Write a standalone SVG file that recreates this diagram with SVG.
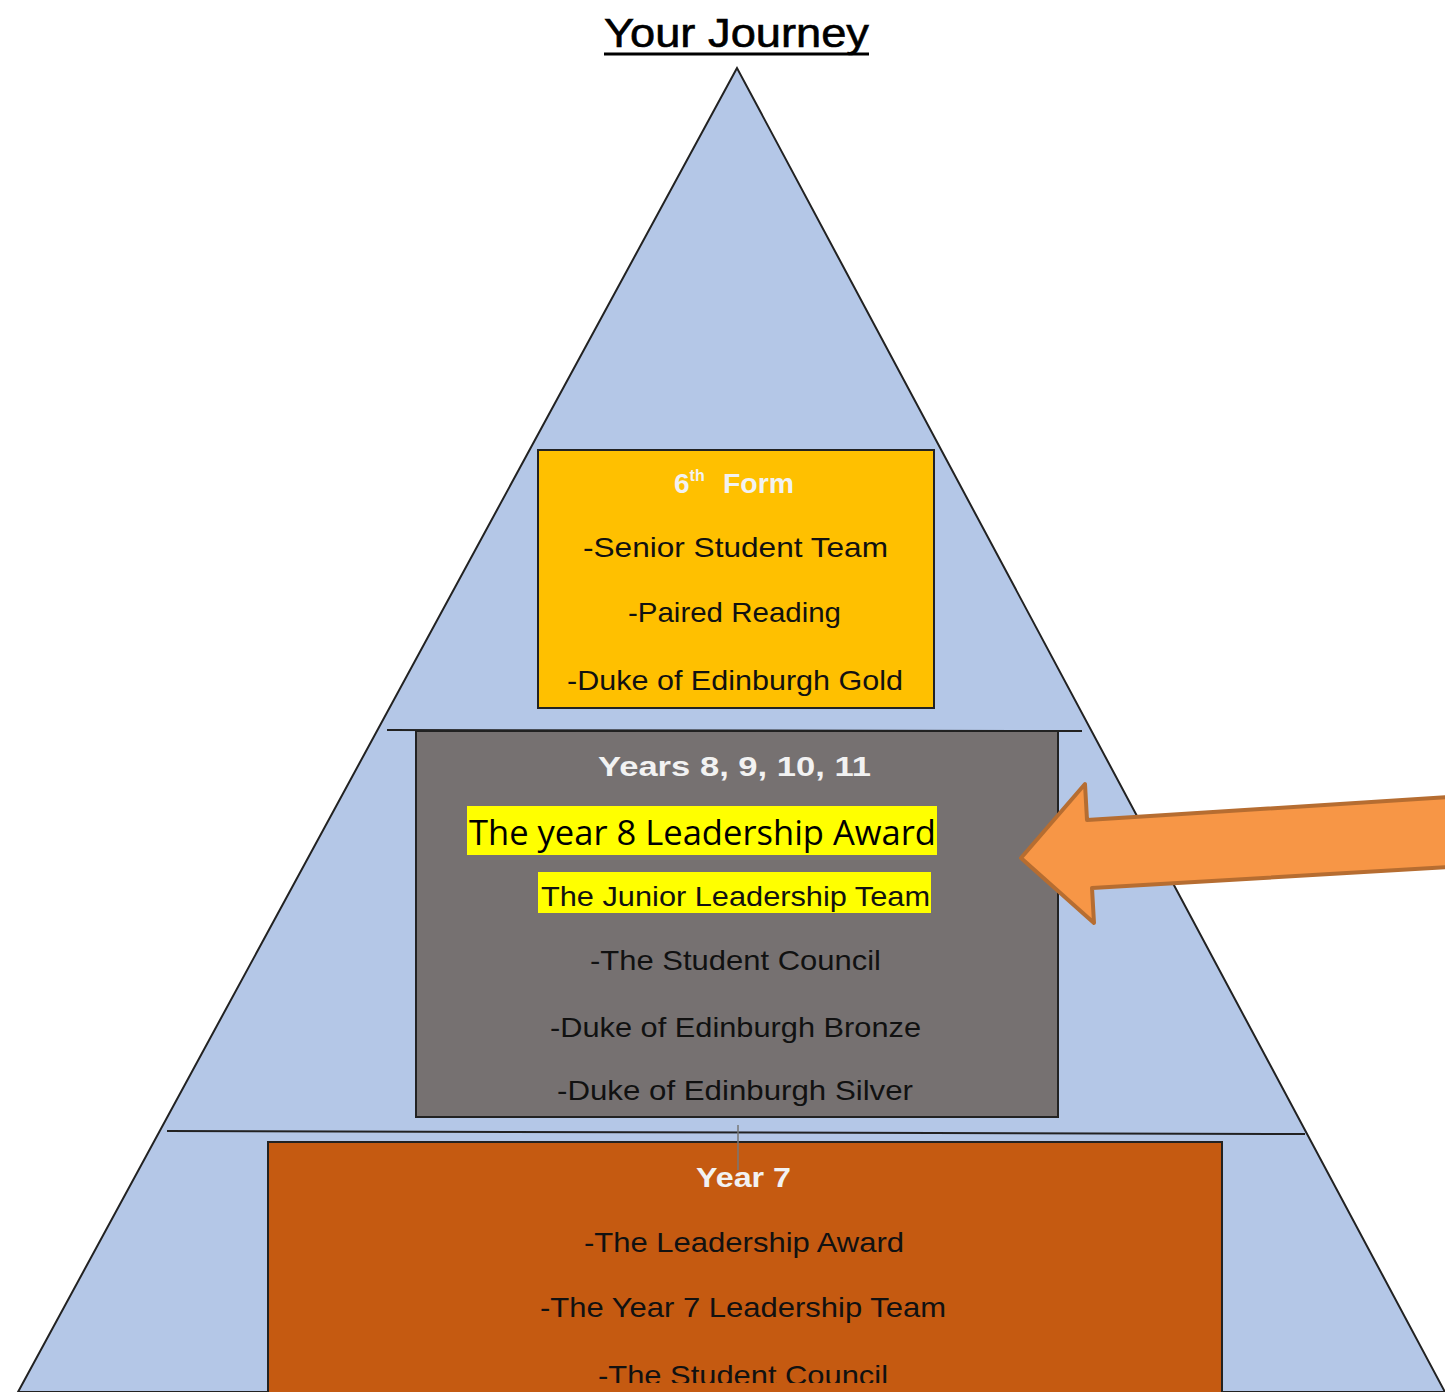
<svg xmlns="http://www.w3.org/2000/svg" width="1445" height="1392" viewBox="0 0 1445 1392">
<defs>
<style>
.c{font-family:"Liberation Sans","DejaVu Sans",sans-serif;font-size:28px;fill:#111;text-anchor:start}
.h{font-family:"Liberation Sans","DejaVu Sans",sans-serif;font-size:28px;font-weight:bold;fill:#f2f2f2}
.box{stroke:#222;stroke-width:2}
.sep{stroke:#222;stroke-width:2;fill:none}
</style>
<clipPath id="clipY7"><rect x="268" y="1142" width="955" height="241"/></clipPath>
</defs>
<rect width="1445" height="1392" fill="#fff"/>
<g id="title">
<text x="604" y="47" font-family="'Liberation Sans',sans-serif" font-size="40" fill="#000" stroke="#000" stroke-width="0.6" textLength="265" lengthAdjust="spacingAndGlyphs">Your Journey</text>
<line x1="604" y1="54" x2="869" y2="54" stroke="#000" stroke-width="3"/>
</g>
<g id="pyramid">
<polygon points="737,68 18,1392 1445,1392" fill="#B4C7E7" stroke="#222" stroke-width="2"/>
</g>
<g id="sixth-form">
<rect class="box" x="538" y="450" width="396" height="258" fill="#FFC000"/>
<text class="h" x="674" y="493">6<tspan font-size="16" dy="-12">th</tspan><tspan dy="12" x="723" textLength="71" lengthAdjust="spacingAndGlyphs">Form</tspan></text>
<text class="c" x="583" y="557" textLength="305" lengthAdjust="spacingAndGlyphs">-Senior Student Team</text>
<text class="c" x="628" y="622" textLength="213" lengthAdjust="spacingAndGlyphs">-Paired Reading</text>
<text class="c" x="567" y="690" textLength="336" lengthAdjust="spacingAndGlyphs">-Duke of Edinburgh Gold</text>
</g>
<g id="years-8-11">
<rect class="box" x="416" y="731" width="642" height="386" fill="#767171"/>
<text class="h" x="598" y="776" textLength="273" lengthAdjust="spacingAndGlyphs" fill="#eeeeee">Years 8, 9, 10, 11</text>
<rect x="467" y="806" width="470" height="49" fill="#FFFF00"/>
<text x="469" y="845" font-family="'Open Sans','Noto Sans',sans-serif" font-size="35" fill="#000" textLength="467" lengthAdjust="spacingAndGlyphs">The year 8 Leadership Award</text>
<rect x="538" y="872" width="393" height="41" fill="#FFFF00"/>
<text class="c" x="541" y="906" textLength="389" lengthAdjust="spacingAndGlyphs">The Junior Leadership Team</text>
<text class="c" x="590" y="970" textLength="291" lengthAdjust="spacingAndGlyphs">-The Student Council</text>
<text class="c" x="550" y="1037" textLength="371" lengthAdjust="spacingAndGlyphs">-Duke of Edinburgh Bronze</text>
<text class="c" x="557" y="1100" textLength="356" lengthAdjust="spacingAndGlyphs">-Duke of Edinburgh Silver</text>
</g>
<g id="year-7">
<rect class="box" x="268" y="1142" width="954" height="260" fill="#C55A11"/>
<text class="h" x="696" y="1187" textLength="95" lengthAdjust="spacingAndGlyphs">Year 7</text>
<text class="c" x="584" y="1252" textLength="320" lengthAdjust="spacingAndGlyphs">-The Leadership Award</text>
<text class="c" x="540" y="1317" textLength="406" lengthAdjust="spacingAndGlyphs">-The Year 7 Leadership Team</text>
<g clip-path="url(#clipY7)">
<text class="c" x="598" y="1385" textLength="290" lengthAdjust="spacingAndGlyphs">-The Student Council</text>
</g>
</g>
<g id="connectors">
<line class="sep" x1="387" y1="730" x2="1082" y2="731"/>
<line class="sep" x1="167" y1="1131" x2="1305" y2="1134" stroke="#333"/>
<line x1="738" y1="1125" x2="738" y2="1170" stroke="#777" stroke-width="1.5"/>
</g>
<g id="arrow">
<polygon points="1021,858 1085,784 1087,820 1450,797 1450,867 1092,888 1094,923" fill="#F79646" stroke="#B66D31" stroke-width="4" stroke-linejoin="round"/>
</g>
</svg>
